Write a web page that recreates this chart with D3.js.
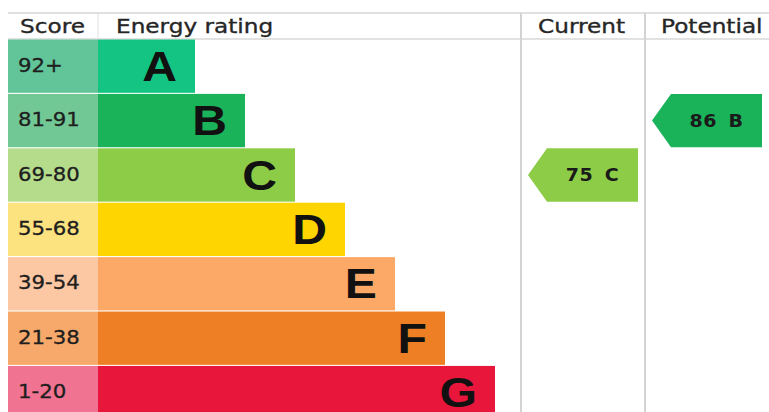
<!DOCTYPE html>
<html>
<head>
<meta charset="utf-8">
<script src="https://cdn.jsdelivr.net/npm/d3@7"></script>
<style>
  body { margin: 0; background: #fff; }
  svg { display: block; }
  .header { font-family: "DejaVu Sans", sans-serif; font-size: 20px; fill: #262626; stroke: #262626; stroke-width: 0.35px; }
  .score { font-family: "DejaVu Sans", sans-serif; font-size: 19px; fill: #1e1e1e; stroke: #1e1e1e; stroke-width: 0.3px; }
  .letter { font-family: "Liberation Sans", Arial, sans-serif; font-weight: bold; font-size: 43px; fill: #111; }
  .arrowlabel { font-family: "DejaVu Sans", sans-serif; font-weight: bold; font-size: 18px; fill: #1a1a1a; letter-spacing: 0.5px; word-spacing: 4px; }
</style>
</head>
<body>
<div id="chart"></div>
<script>
const bands = ['A', 'B', 'C', 'D', 'E', 'F', 'G'];
const scoreLabels = ['92+', '81-91', '69-80', '55-68', '39-54', '21-38', '1-20'];
const scoreMins = [92, 81, 69, 55, 39, 21, 1];
const barRanks = [1, 2, 3, 4, 5, 6, 7];
const barColors = ['#14c482', '#1bb35a', '#8dcc46', '#fed500', '#fca866', '#ef7f24', '#e9163c'];
const cellColors = ['#62c59a', '#72c894', '#b4dc8b', '#fde37f', '#fbc8a3', '#f6a96a', '#f07391'];
const columns = ['Current', 'Potential'];
const ratings = [75, 86];

const width = 769;
const height = 412;
const stretch = 1.16;

const svg = d3.select('#chart').append('svg')
  .attr('width', width)
  .attr('height', height);

const rows = bands.map((b, i) => ({
  band: b,
  label: scoreLabels[i],
  min: scoreMins[i],
  rank: barRanks[i],
  color: barColors[i],
  cell: cellColors[i],
}));

const y = d3.scaleBand()
  .domain(bands)
  .range([39.5, 39.5 + 7 * 54.25])
  .paddingInner(0.02)
  .paddingOuter(0);

// bar ends step out one rank at a time
const x = d3.scaleLinear()
  .domain([1, 7])
  .range([195, 495]);

const scoreCol = { x0: 8, x1: 98 };

const colX = d3.scaleBand()
  .domain(columns)
  .range([521, 769]);

// table lines
svg.append('line')
  .attr('x1', scoreCol.x0).attr('x2', width)
  .attr('y1', 13).attr('y2', 13)
  .attr('stroke', '#d6d6d6').attr('stroke-width', 1.5);

svg.append('line')
  .attr('x1', scoreCol.x0).attr('x2', width)
  .attr('y1', 39).attr('y2', 39)
  .attr('stroke', '#d9d9d9').attr('stroke-width', 1.5);

svg.append('line')
  .attr('x1', scoreCol.x1).attr('x2', scoreCol.x1)
  .attr('y1', 13).attr('y2', 39)
  .attr('stroke', '#e0e0e0').attr('stroke-width', 1);

svg.selectAll('.colline')
  .data(columns)
  .enter().append('line')
  .attr('class', 'colline')
  .attr('x1', d => colX(d)).attr('x2', d => colX(d))
  .attr('y1', 13).attr('y2', height)
  .attr('stroke', '#d3d3d3').attr('stroke-width', 2);

// headers
const headers = [
  { text: 'Score', x: scoreCol.x0 + 12 },
  { text: 'Energy rating', x: scoreCol.x1 + 18 },
  { text: columns[0], x: colX(columns[0]) + 17 },
  { text: columns[1], x: colX(columns[1]) + 16 },
];

svg.selectAll('.header')
  .data(headers)
  .enter().append('text')
  .attr('class', 'header')
  .attr('transform', d => `translate(${d.x},33) scale(${stretch},1)`)
  .text(d => d.text);

// score cells
svg.selectAll('.cell')
  .data(rows)
  .enter().append('rect')
  .attr('class', 'cell')
  .attr('x', scoreCol.x0)
  .attr('y', d => y(d.band))
  .attr('width', scoreCol.x1 - scoreCol.x0)
  .attr('height', y.bandwidth())
  .attr('fill', d => d.cell);

svg.selectAll('.score')
  .data(rows)
  .enter().append('text')
  .attr('class', 'score')
  .attr('dominant-baseline', 'central')
  .attr('transform', d => `translate(${scoreCol.x0 + 10},${y(d.band) + y.bandwidth() / 2 - 1}) scale(1.12,1)`)
  .text(d => d.label);

// rating bars
svg.selectAll('.bar')
  .data(rows)
  .enter().append('rect')
  .attr('class', 'bar')
  .attr('x', scoreCol.x1)
  .attr('y', d => y(d.band))
  .attr('width', d => x(d.rank) - scoreCol.x1)
  .attr('height', y.bandwidth())
  .attr('fill', d => d.color);

svg.selectAll('.letter')
  .data(rows)
  .enter().append('text')
  .attr('class', 'letter')
  .attr('text-anchor', 'end')
  .attr('dominant-baseline', 'central')
  .attr('transform', d => `translate(${x(d.rank) - 18},${y(d.band) + y.bandwidth() / 2}) scale(1.12,1)`)
  .text(d => d.band);

// current / potential arrows
const bandFor = v => rows.find(r => v >= r.min);
const arrows = columns.map((c, i) => {
  const r = bandFor(ratings[i]);
  return { col: c, value: ratings[i], row: r };
});

const tip = 19;
const arrowPath = d => {
  const x0 = colX(d.col) + 7;
  const x1 = colX(d.col) + colX.bandwidth() - 7;
  const y0 = y(d.row.band);
  const y1 = y0 + y.bandwidth();
  const p = d3.path();
  p.moveTo(x0, (y0 + y1) / 2);
  p.lineTo(x0 + tip, y0);
  p.lineTo(x1, y0);
  p.lineTo(x1, y1);
  p.lineTo(x0 + tip, y1);
  p.closePath();
  return p.toString();
};

svg.selectAll('.arrow')
  .data(arrows)
  .enter().append('path')
  .attr('class', 'arrow')
  .attr('d', arrowPath)
  .attr('fill', d => d.row.color);

svg.selectAll('.arrowlabel')
  .data(arrows)
  .enter().append('text')
  .attr('class', 'arrowlabel')
  .attr('text-anchor', 'middle')
  .attr('dominant-baseline', 'central')
  .attr('transform', d => {
    const cx = (colX(d.col) + 7 + tip + colX(d.col) + colX.bandwidth() - 7) / 2;
    return `translate(${cx},${y(d.row.band) + y.bandwidth() / 2}) scale(1.06,1)`;
  })
  .text(d => `${d.value} ${d.row.band}`);
</script>
</body>
</html>
